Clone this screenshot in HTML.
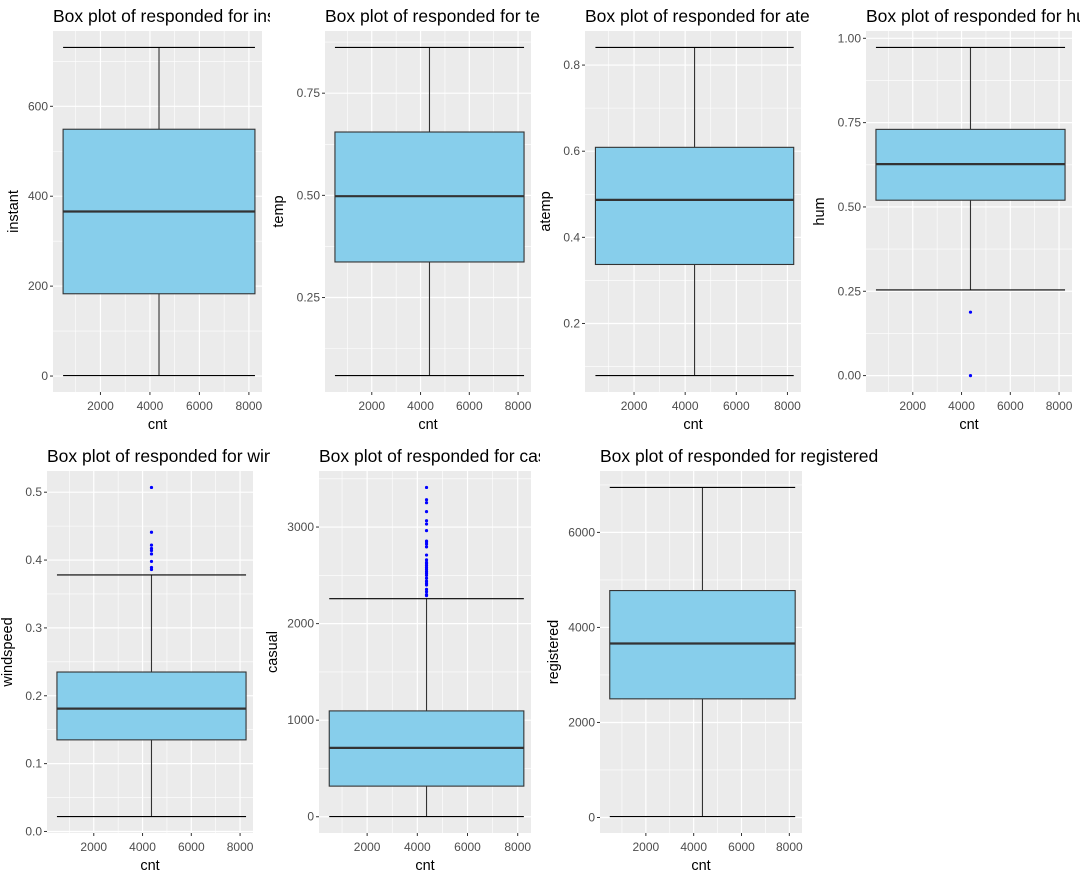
<!DOCTYPE html>
<html><head><meta charset="utf-8"><style>
html,body{margin:0;padding:0;background:#fff;}
svg{display:block;font-family:"Liberation Sans",Arial,sans-serif;}
</style></head><body>
<svg id="chart" width="1080" height="879" viewBox="0 0 1080 879" xmlns="http://www.w3.org/2000/svg"></svg>
<script>
// ---- data ----
const panelVars = ["instant","temp","atemp","hum","windspeed","casual","registered"];
const whiskerLow  = [1, 0.059, 0.079, 0.254, 0.022, 2, 20];
const boxQ1       = [183, 0.337, 0.337, 0.520, 0.135, 317, 2497];
const boxMedian   = [366, 0.498, 0.487, 0.627, 0.181, 713, 3662];
const boxQ3       = [549, 0.655, 0.609, 0.730, 0.235, 1096, 4776];
const whiskerHigh = [731, 0.862, 0.841, 0.973, 0.378, 2258, 6946];
const outliersHum = [0.188, 0.0];
const outliersWind = [0.507, 0.441, 0.422, 0.417, 0.414, 0.409, 0.398, 0.389, 0.386];
const outliersCasual = [3410, 3283, 3252, 3160, 3065, 3031, 2963, 2855, 2846, 2825, 2795, 2710, 2660, 2634, 2620, 2600, 2580, 2562, 2540, 2521, 2500, 2470, 2440, 2418, 2400, 2355, 2330, 2300, 2290];
const yTicks0 = [0,200,400,600];
const yTicks1 = [0.25,0.50,0.75];
const yTicks2 = [0.2,0.4,0.6,0.8];
const yTicks3 = [0.00,0.25,0.50,0.75,1.00];
const yTicks4 = [0.0,0.1,0.2,0.3,0.4,0.5];
const yTicks5 = [0,1000,2000,3000];
const yTicks6 = [0,2000,4000,6000];
const yTickLabels3 = ["0.00","0.25","0.50","0.75","1.00"];
const xTicks = [2000,4000,6000,8000];
const xMinor = [1000,3000,5000,7000];
const xDomain = [82, 8530];
const boxXRange = [490, 8245];
const boxXCenter = 4367;

const svg = document.getElementById('chart');
const NS = 'http://www.w3.org/2000/svg';
function mk(tag, attrs, parent){
  const e = document.createElementNS(NS, tag);
  for (const k in attrs) e.setAttribute(k, attrs[k]);
  (parent||svg).appendChild(e);
  return e;
}
const layout = [
  {l:53,r:262,t:31,b:392,cell:0,cw:270,row:0},
  {l:325,r:531,t:31,b:392,cell:270,cw:270,row:0},
  {l:585,r:801,t:31,b:392,cell:540,cw:270,row:0},
  {l:866,r:1072,t:31,b:392,cell:810,cw:270,row:0},
  {l:47,r:253,t:471,b:833,cell:0,cw:270,row:1},
  {l:319,r:531,t:471,b:833,cell:270,cw:270,row:1},
  {l:600,r:802,t:471,b:833,cell:540,cw:540,row:1}
];
const allTicks = [yTicks0,yTicks1,yTicks2,yTicks3,yTicks4,yTicks5,yTicks6];
const allOutliers = [[],[],[],outliersHum,outliersWind,outliersCasual,[]];
const fmt = [v=>String(v), v=>v.toFixed(2), v=>v.toFixed(1), (v,i)=>yTickLabels3[i], v=>v.toFixed(1), v=>String(v), v=>String(v)];

const defs = mk('defs',{});
panelVars.forEach((name, i) => {
  const L = layout[i];
  const g = mk('g',{});
  
  
  const cp = mk('clipPath',{id:'clip'+i}, defs);
  mk('rect',{x:L.cell,y:L.row?440:0,width:L.cw,height:440},cp);
  const lo = Math.min(whiskerLow[i], ...allOutliers[i]);
  const hi = Math.max(whiskerHigh[i], ...allOutliers[i]);
  const pad = (hi-lo)*0.05;
  const yd = [lo-pad, hi+pad];
  const ys = v => L.b - (v - yd[0])/(yd[1]-yd[0])*(L.b-L.t);
  const xs = v => L.l + (v - xDomain[0])/(xDomain[1]-xDomain[0])*(L.r-L.l);
  const bg = mk('rect',{x:L.l,y:L.t,width:L.r-L.l,height:L.b-L.t,fill:'#ebebeb'},g);
  
  
  const ticks = allTicks[i];
  const step = ticks[1]-ticks[0];
  const minors = [ticks[0]-step/2, ...ticks.map(t=>t+step/2)];
  minors.forEach(v=>{ const y=ys(v); if(y>L.t&&y<L.b) mk('line',{x1:L.l,x2:L.r,y1:y,y2:y,stroke:'#fff','stroke-width':0.6},g);});
  xMinor.forEach(v=>{ const x=xs(v); mk('line',{x1:x,x2:x,y1:L.t,y2:L.b,stroke:'#fff','stroke-width':0.6},g);});
  ticks.forEach((v,k)=>{
    const y=ys(v);
    mk('line',{x1:L.l,x2:L.r,y1:y,y2:y,stroke:'#fff','stroke-width':1.2},g);
    mk('line',{x1:L.l-3,x2:L.l,y1:y,y2:y,stroke:'#333','stroke-width':1},g);
    const t = mk('text',{x:L.l-5,y:y+4,'text-anchor':'end','font-size':12,fill:'#4d4d4d'},g);
    t.textContent = fmt[i](v,k);
    
    
  });
  xTicks.forEach(v=>{
    const x=xs(v);
    mk('line',{x1:x,x2:x,y1:L.t,y2:L.b,stroke:'#fff','stroke-width':1.2},g);
    mk('line',{x1:x,x2:x,y1:L.b,y2:L.b+3,stroke:'#333','stroke-width':1},g);
    const t = mk('text',{x:x,y:L.b+18,'text-anchor':'middle','font-size':12,fill:'#4d4d4d'},g);
    t.textContent = String(v);
    
    
  });
  const xc = xs(boxXCenter), x0 = xs(boxXRange[0]), x1 = xs(boxXRange[1]);
  mk('line',{x1:xc,x2:xc,y1:ys(whiskerLow[i]),y2:ys(whiskerHigh[i]),stroke:'#333','stroke-width':1.1},g);
  [whiskerLow[i], whiskerHigh[i]].forEach(v=>{
    const c = mk('line',{x1:x0,x2:x1,y1:ys(v),y2:ys(v),stroke:'#000','stroke-width':1.1},g);
    
    
  });
  const box = mk('rect',{x:x0,y:ys(boxQ3[i]),width:x1-x0,height:ys(boxQ1[i])-ys(boxQ3[i]),fill:'#87ceeb',stroke:'#333','stroke-width':1.1},g);
  
  
  const med = mk('line',{x1:x0,x2:x1,y1:ys(boxMedian[i]),y2:ys(boxMedian[i]),stroke:'#333','stroke-width':2.2},g);
  
  
  allOutliers[i].forEach(v=>{
    const p = mk('circle',{cx:xc,cy:ys(v),r:1.6,fill:'#0000ff'},g);
    
    
  });
  const tt = mk('text',{x:L.l,y:L.t-9,'font-size':17.5,fill:'#000','clip-path':'url(#clip'+i+')'},g);
  tt.textContent = 'Box plot of responded for ' + name;
  
  
  const xt = mk('text',{x:(L.l+L.r)/2,y:L.b+37,'text-anchor':'middle','font-size':14.5,fill:'#000'},g);
  xt.textContent = 'cnt';
  
  
  const maxLab = Math.max(...ticks.map((v,k)=>fmt[i](v,k).length));
  const yx = L.l - 10 - maxLab*6.7 - 5;
  const ym = (L.t+L.b)/2;
  const yt = mk('text',{x:yx,y:ym,'text-anchor':'middle','font-size':14.5,fill:'#000',transform:'rotate(-90 '+yx+' '+ym+')'},g);
  yt.textContent = name;
  
  
});
</script>
</body></html>
